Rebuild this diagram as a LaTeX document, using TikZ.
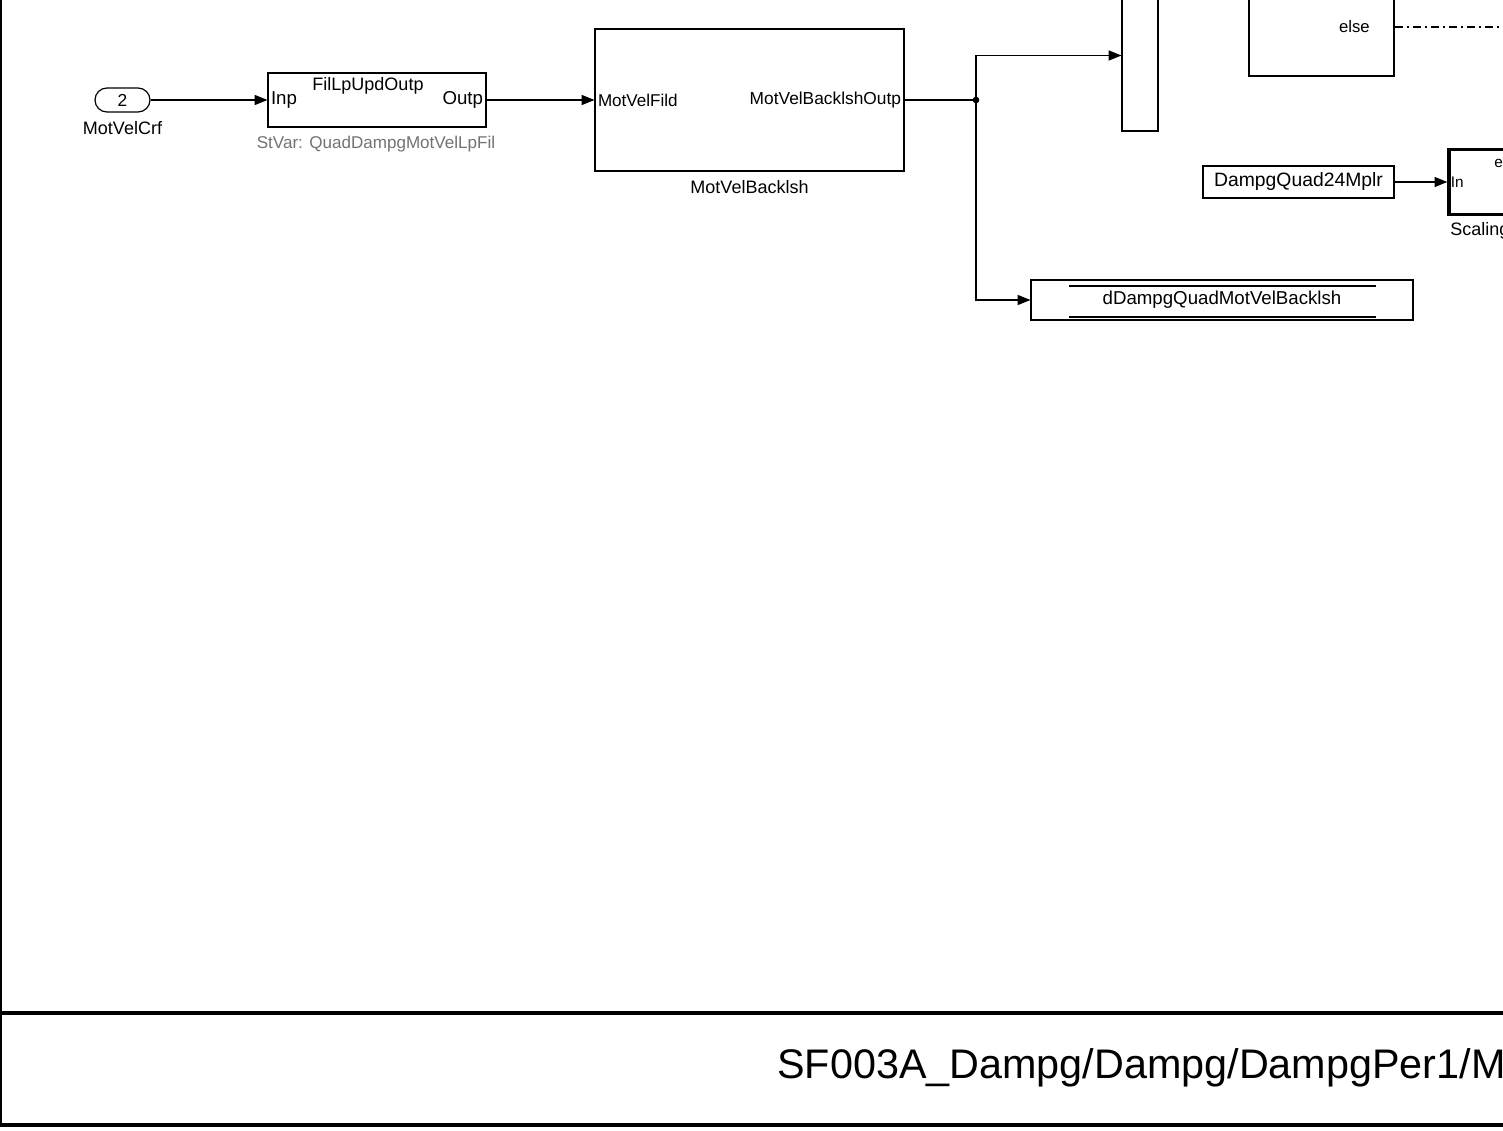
\documentclass[tikz,border=0pt]{standalone}
\usepackage{fontspec}
\setmainfont{Liberation Sans}
\usetikzlibrary{arrows.meta}
\usetikzlibrary{calc}
\newcommand{\fs}[1]{\fontsize{#1}{#1}\selectfont}
\tikzset{
	blk/.style={draw, line width=0.9pt, inner sep=0pt},
	sig/.style={line width=0.8pt, -{Triangle[length=9.5pt,width=7.5pt]}},
	wire/.style={line width=0.8pt},
	plbl/.style={inner sep=2.5pt, font=\fs{12.5}},
}
\begin{document}
\begin{tikzpicture}[x=0.75pt,y=-0.75pt]

	    \useasboundingbox (0,0) rectangle (1503,1131);
	    \clip (0,0) rectangle (1503,1131);

	    \draw[line width=1.5pt] (1,-5) -- (1,1125);
	    \draw[line width=2.4pt] (0,1013) -- (1510,1013);
	    \draw[line width=2.4pt] (0,1125) -- (1510,1125);
	    \node[anchor=west, inner sep=0pt, font=\fs{31}] (title) at (777,1068) {SF003A\_Dampg/Dampg/DampgPer1/M};

	    \node[blk, rounded corners=9pt, minimum width={55*0.75pt}, minimum height={24*0.75pt}, font=\fs{13}] (in2) at (122.5,100) {2};
	    \node[font=\fs{13.5}] (in2lbl) at (122.5,128) {MotVelCrf};

	    \node[blk, minimum width={218*0.75pt}, minimum height={54*0.75pt}] (fil) at (377,100) {};
	    \node[anchor=north, inner sep=2pt, font=\fs{13.5}] (filname) at (368,75) {FilLpUpdOutp};
	    \node[plbl, anchor=west, font=\fs{14}] (filinp) at (fil.west) {Inp};
	    \node[plbl, anchor=east, font=\fs{14}] (filoutp) at (fil.east) {Outp};
	    \node[font=\fs{12.8}, text=black!55] (filvar) at (376,144) {StVar: QuadDampgMotVelLpFil};

	    \node[blk, minimum width={309*0.75pt}, minimum height={142*0.75pt}] (bl) at (749.5,100) {};
	    \node[plbl, anchor=west, font=\fs{12.8}] (blinp) at (bl.west) {MotVelFild};
	    \node[plbl, anchor=east, font=\fs{13}] (bloutp) at (bl.east) {MotVelBacklshOutp};
	    \node[font=\fs{13.5}] (blname) at (749.5,187) {MotVelBacklsh};

	    \coordinate (j) at (976,100);
	    \filldraw (j) circle(3);

	    \node[blk, minimum width={36*0.75pt}, minimum height={151*0.75pt}] (mux) at (1140,55.5) {};

	    \node[blk, minimum width={145*0.75pt}, minimum height={116*0.75pt}] (elsebox) at (1321.5,18) {};
	    \node[anchor=east, inner sep=0pt, font=\fs{12.5}] (elselbl) at (1370,27) {else};
	    \coordinate (elseout) at (1510,27);

	    \node[blk, minimum width={191*0.75pt}, minimum height={32*0.75pt}, font=\fs{14.5}] (mplr) at (1298.5,182) {DampgQuad24Mplr};

	    \node[blk, line width=2.6pt, minimum width={111*0.75pt}, minimum height={65*0.75pt}] (scal) at (1504.5,182) {};
	    \node[plbl, anchor=west, font=\fs{11.5}] (scalin) at (scal.west) {In};
	    \node[anchor=west, inner sep=0pt, font=\fs{11.5}] (scalen) at (1494,163) {e};
	    \node[anchor=west, inner sep=0pt, font=\fs{13.5}] (scalname) at (1450,231) {Scaling};

	    \node[blk, minimum width={382*0.75pt}, minimum height={40*0.75pt}, font=\fs{14}] (goto) at (1222,300) {dDampgQuadMotVelBacklsh};
	    \draw[wire] (1069,286) -- (1376,286);
	    \draw[wire] (1069,317) -- (1376,317);

	    \draw[sig] (in2.east) -- (fil.west);
	    \draw[sig] (fil.east) -- (bl.west);
	    \draw[wire] (bl.east) -- (j);
	    \draw[sig] (j) |- (mux.west);
	    \draw[sig] (j) |- (goto.west);
	    \draw[sig] (mplr.east) -- (scal.west);
	    \draw[wire, dash pattern=on 6pt off 3pt on 1.5pt off 3pt] (elsebox.east |- elseout) -- (elseout);

	    \end{tikzpicture}
\end{document}
